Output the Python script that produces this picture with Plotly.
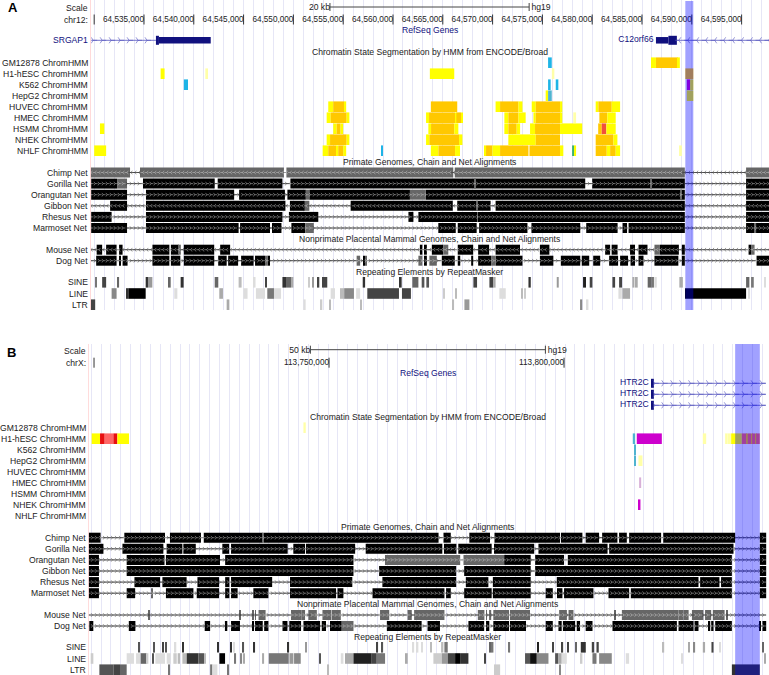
import numpy as np
import plotly.graph_objects as go

# Positions are in units of 100 bp from the window origin of each panel.
ORIGIN_A = "chr12:64,530,000"
ORIGIN_B = "chrX:113,700,000"
ruler_ticks_a = [0, 50, 100, 150, 200, 250, 300, 350, 400, 450, 500, 550, 600, 650]
ruler_labels_a = ["", "64,535,000", "64,540,000", "64,545,000", "64,550,000", "64,555,000", "64,560,000", "64,565,000",
                  "64,570,000", "64,575,000", "64,580,000", "64,585,000", "64,590,000", "64,595,000"]
ruler_ticks_b = [0, 500, 1000]
ruler_labels_b = ["", "113,750,000", "113,800,000"]
scale_a = (236.7, 436.7)
scale_b = (460.3, 960.3)
highlight_a = (593.5, 601.5)
highlight_b = (1364, 1416.5)

cells = ["GM12878", "H1-hESC", "K562", "HepG2", "HUVEC", "HMEC", "HSMM", "NHEK", "NHLF"]
nets = ["Chimp", "Gorilla", "Orangutan", "Gibbon", "Rhesus", "Marmoset"]
nets2 = ["Mouse", "Dog"]
repeats = ["SINE", "LINE", "LTR"]

# ---- ChromHMM states, panel A: (start, end, state)
gm12878_a = [(455.7, 459.4, "C"), (559, 564, "Y"), (564, 586, "G"), (586, 588, "Y")]
h1_a = [(66.7, 70.7, "Y"), (111.6, 114.3, "P"), (337, 361.5, "Y"), (459.5, 462, "P"), (593.5, 601.5, "G")]
k562_a = [(90, 94.2, "C"), (455.7, 458.3, "C"), (463.4, 466, "C"), (595, 598.3, "M"), (598.3, 601.5, "Y")]
hepg2_a = [(453.3, 455.7, "Y"), (455.7, 459.4, "T"), (595, 601.5, "Y")]
huvec_a = [(235, 240, "Y"), (240, 251, "G"), (251, 253, "Y"), (338, 364.5, "G"), (403, 407.5, "Y"), (407.5, 426, "G"),
           (426, 430, "Y"), (439.3, 443.3, "Y"), (443.3, 467.7, "G"), (467.7, 470, "Y"), (503.5, 506.2, "Y"),
           (506.2, 519.6, "G"), (519.6, 528, "Y")]
hmec_a = [(233.4, 237.4, "Y"), (237.4, 253.5, "G"), (253.5, 256.2, "Y"), (333.2, 336.2, "Y"), (336.2, 362.3, "G"),
          (362.3, 363.6, "Y"), (363.6, 368.3, "G"), (368.3, 369.7, "Y"), (411.8, 415.8, "Y"), (415.8, 426, "G"),
          (426, 433.2, "Y"), (441, 443.3, "Y"), (443.3, 468.4, "G"), (468.4, 470, "Y"), (481, 483.8, "P"),
          (507.2, 515.2, "G"), (515.2, 523.6, "Y")]
hsmm_a = [(5.8, 10.2, "Y"), (240, 243.4, "Y"), (243.4, 247.4, "G"), (247.4, 250, "Y"), (335.5, 338.2, "Y"),
          (338.2, 361.6, "G"), (361.6, 365.6, "Y"), (411.8, 415.8, "Y"), (415.8, 424.2, "G"), (424.2, 427.6, "Y"),
          (437.6, 442.6, "Y"), (442.6, 467.7, "G"), (467.7, 490, "Y"), (506, 509.6, "G"), (509.6, 514.2, "O"),
          (514.2, 523.6, "Y")]
nhek_a = [(233.4, 236.8, "Y"), (236.8, 253.5, "G"), (253.5, 256.2, "Y"), (333.2, 336.5, "Y"), (336.5, 366.3, "G"),
          (366.3, 369.7, "Y"), (415.8, 443.3, "Y"), (443.3, 467.7, "G"), (503.5, 521.3, "G"), (521.3, 525.3, "Y")]
nhlf_a = [(0, 12, "Y"), (229.4, 235, "Y"), (235, 243, "G"), (243, 245, "Y"), (245, 250, "G"), (250, 253, "Y"), (288, 290, "C"),
          (338, 345.6, "Y"), (345.6, 362.3, "G"), (362.3, 367.3, "Y"), (391.7, 393.4, "Y"), (393.4, 399.8, "G"),
          (399.8, 407.5, "Y"), (407.5, 436, "G"), (437, 467.7, "G"), (467.7, 471, "Y"), (479.8, 481.8, "V"),
          (481.8, 483.8, "Y"), (503.5, 514.6, "G"), (514.6, 518, "Y"), (518, 523.6, "G"), (523.6, 528, "Y"),
          (587.2, 590, "P")]

# ---- ChromHMM states, panel B
gm12878_b = [(445.5, 450.5, "P")]
h1_b = [(-5, 12.8, "Y"), (12.8, 22.7, "R"), (22.7, 41.2, "S"), (41.2, 49.7, "R"), (49.7, 74.5, "Y"), (1146.2, 1151.2, "T"),
        (1154.7, 1208, "M"), (1295.2, 1302.3, "P"), (1342.7, 1347.7, "P"), (1347.7, 1355.5, "P"), (1355.5, 1378.2, "Y"),
        (1378.2, 1388.8, "S"), (1388.8, 1391, "G"), (1391, 1398, "S"), (1398, 1400, "G"), (1400, 1406.5, "S"),
        (1406.5, 1408.6, "G"), (1408.6, 1416.4, "S")]
k562_b = [(1149, 1151.2, "T")]
hepg2_b = [(1149, 1151.2, "T"), (1158.3, 1166.8, "P")]
huvec_b = []
hmec_b = [(1159.7, 1164, "L")]
hsmm_b = []
nhek_b = [(1158.3, 1162.5, "M")]
nhlf_b = []

# ---- Net blocks: black and gray runs, panel A
chimp_a = []
chimp_a_gray = [(-4, 36), (46, 190.5), (193, 360.5), (362, 593), (654.5, 678)]
gorilla_a = [(-3, 23), (49, 121), (124, 189), (197, 493), (500, 593), (654.5, 678)]
gorilla_a_gray = [(23, 33), (382, 383), (558.5, 559.5)]
orangutan_a = [(-3, 33), (52, 140.5), (145.5, 191.5), (194, 212.5), (216, 317), (333, 593), (654.5, 678)]
orangutan_a_gray = [(212.5, 216), (317, 333), (589, 590)]
gibbon_a = [(16, 33), (52, 192), (196.5, 211.5), (257.5, 360), (364.5, 398), (403, 593), (654.5, 678)]
gibbon_a_gray = [(211.5, 216), (384, 385)]
rhesus_a = [(-3, 17.5), (52, 189), (195.5, 225), (315.5, 320.5), (325.5, 593), (654.5, 678)]
rhesus_a_gray = [(384.5, 385)]
marmoset_a = [(-3, 33), (52, 145), (146.5, 176.5), (178.5, 188), (198, 212), (345.5, 363), (365, 384), (386.5, 435),
              (439, 488), (494, 525.5), (530.5, 535), (536.5, 593), (654.5, 662.5), (664.5, 678)]
marmoset_a_gray = [(212, 220.5), (662.5, 664.5)]
mouse_a = [(2.5, 8), (12, 22.5), (25, 28.5), (58.5, 75.5), (77, 85), (90, 120.5), (126.5, 136.5), (327, 329.5), (332, 334),
           (339, 350.5), (365, 380.5), (385.5, 396.5), (403, 427.5), (447.5, 457), (513, 518), (519.5, 525.5), (538, 543),
           (546.5, 555.5), (568, 587), (590, 593), (657, 659.5)]
mouse_a_gray = [(85, 87), (350.5, 355.5), (562.5, 568), (659.5, 663)]
dog_a = [(2, 22.5), (25, 26.5), (28.5, 33.5), (58.5, 75.5), (77, 86.5), (90, 120.5), (124.5, 133), (134.5, 144.5),
         (147.5, 160), (161.5, 171.5), (174, 176.5), (270, 271), (332, 334), (349, 362), (365, 367.5), (378.5, 380.5),
         (385.5, 398.5), (403, 430), (447.5, 461), (468.5, 488), (489.5, 497), (501, 508), (517, 526), (528, 536),
         (538.5, 543), (546.5, 551.5), (562.5, 586.5), (590, 593), (665, 678)]
dog_a_gray = [(171.5, 174), (263.5, 267), (272, 273.5), (325.5, 329.5), (336.5, 344), (398.5, 403)]

# ---- Net blocks, panel B
chimp_b = [(-12, 14), (64.5, 151), (161.5, 227.5), (233.5, 359), (361, 733), (743.5, 759), (798.5, 842.5), (852, 991.5),
           (993.5, 1039), (1046, 1074.5), (1081, 1113.5), (1117, 1133.5), (1138.5, 1206.5), (1211, 1364), (1416.5, 1430)]
chimp_b_gray = [(359, 361)]
gorilla_b = [(-12, 20), (60.5, 147.5), (154.5, 188), (190, 216.5), (273, 287.5), (291.5, 412), (424, 449), (451, 555.5),
             (578, 741), (744.5, 771), (775, 846), (851, 936.5), (945.5, 1092.5), (1096, 1360.5), (1416.5, 1430)]
gorilla_b_gray = []
orangutan_b = [(-12, 10.5), (69.5, 150), (153, 268), (279, 552), (872.5, 929), (938.5, 1000), (1008, 1357), (1416.5, 1430)]
orangutan_b_gray = [(619, 779), (786, 872.5)]
gibbon_b = [(-12, 10.5), (69.5, 552), (606.5, 770.5), (787.5, 929), (938.5, 1357), (1416.5, 1430)]
gibbon_b_gray = []
rhesus_b = [(-12, 10.5), (86, 140.5), (145.5, 197), (220, 266), (279, 288), (291.5, 379), (417, 549.5), (613.5, 770.5),
            (791, 839), (848.5, 929), (984.5, 1286), (1289.5, 1330.5), (1334, 1357), (1416.5, 1430)]
rhesus_b_gray = []
marmoset_b = [(-12, 10.5), (69.5, 87.5), (153, 211.5), (218.5, 266), (279, 288), (291.5, 305.5), (339, 371), (417, 515),
              (518, 530.5), (592.5, 745.5), (749, 759), (787.5, 846), (848.5, 929), (961, 976), (985, 996.5), (1000, 1062.5),
              (1094.5, 1138.5), (1142, 1357), (1416.5, 1430)]
marmoset_b_gray = [(123, 125)]
mouse_b = []
mouse_b_gray = [(116, 118), (309, 311), (337, 339), (342.5, 344.5), (350, 365), (419, 442), (442.5, 449), (456, 474),
                (486, 504.5), (505.5, 525), (608.5, 628), (667, 676), (681, 745.5), (816.5, 830.5), (834, 835.5), (840.5, 845),
                (849.5, 883), (885, 927.5), (989.5, 1006), (1009.5, 1020), (1106.5, 1108.5), (1123, 1243.5), (1243.5, 1254),
                (1254, 1265), (1272, 1296.5), (1300, 1313), (1316.5, 1341.5), (1345, 1347.5)]
dog_b = [(-10, -1.5), (74, 84), (85, 88), (235.5, 247), (278.5, 283.5), (291.5, 310.5), (337, 340.5), (342.5, 359), (362, 371),
         (401, 411.5), (415.5, 440.5), (445.5, 481), (484.5, 493.5), (502, 527), (623, 697), (709.5, 736), (796.5, 830),
         (834, 841), (849.5, 883), (885, 919), (961, 976), (988, 995), (997.5, 1023.5), (1027, 1034), (1046, 1060.5),
         (1103, 1240), (1243.5, 1275.5), (1277.5, 1286), (1307, 1311), (1313, 1318), (1321.5, 1357), (1416.5, 1419), (1422, 1430)]
dog_b_gray = [(527, 552)]

# ---- RepeatMasker: (start, end, score 0-15)
sine_a = [(1, 2.5, 8), (8, 12, 11), (23, 25, 9), (51.7, 54, 12), (54, 58.4, 6), (75, 76.8, 9), (86.8, 89.8, 12), (121, 124.6, 9),
          (145, 148, 4), (160.4, 162, 2), (171.8, 173.5, 11), (189, 192.6, 12), (192.6, 197.6, 9), (197.6, 200, 5),
          (215.3, 216.7, 3), (219.3, 220.7, 6), (223.7, 226, 11), (228.7, 234, 11), (269.6, 272, 12), (306, 308.7, 12),
          (319.4, 325.5, 9), (328.8, 331.5, 10), (333.5, 336.2, 10), (380.7, 384.4, 11), (396.8, 400.8, 11), (400.8, 403, 5),
          (436, 438.3, 12), (464.4, 466.4, 6), (490.8, 493.8, 13), (497.5, 500.2, 11), (520.3, 523, 11), (527, 530, 11),
          (540.3, 542.4, 5), (543.7, 545.7, 5), (555.7, 559.8, 9), (559.8, 562, 8), (562.4, 564.8, 2), (587.5, 591, 5),
          (654.5, 657.8, 9), (659.5, 662.2, 8), (672.6, 674.2, 2)]
line_a = [(17.5, 22.5, 7), (32.6, 34.3, 12), (34.3, 51.7, 15), (80.4, 83.5, 2), (125.6, 129.3, 5), (149.7, 154, 2),
          (162.4, 171.5, 2), (173.8, 180.5, 8), (180.5, 187.6, 2), (237.4, 241.8, 2), (246.8, 251, 4), (251, 260.8, 7),
          (263, 267, 2), (274.2, 306, 11), (309, 318, 11), (350.6, 351.6, 3), (362.3, 363.6, 4), (406.8, 413.2, 2),
          (428.6, 429.6, 4), (432, 432.6, 3), (526.3, 529.7, 2), (530.3, 538, 5), (593.2, 654.5, 15), (656.8, 658.5, 2)]
ltr_a = [(-3.6, 1, 11), (133, 135.7, 5), (210, 212.3, 2), (227.7, 229, 3), (236, 237.4, 4), (267.2, 268.6, 4), (359.6, 361.3, 4),
         (371.7, 376.7, 6), (487.8, 490, 7), (494.5, 496.2, 2)]
sine_b = [(95, 97.2, 10), (127, 129.8, 10), (145.4, 147.6, 11), (151.8, 154.7, 10), (172, 175, 2), (187.3, 190, 12), (262.5, 264.6, 12),
          (289.4, 293, 12), (296.5, 300, 2), (316.4, 319.2, 10), (339.8, 342.6, 12), (412, 415, 12), (449.7, 451.8, 6),
          (601.5, 604.3, 11), (612, 615, 10), (678, 681, 2), (686.6, 690, 2), (697, 699, 2), (715, 717, 4), (738.4, 743.3, 4),
          (745.4, 752.5, 8), (841.2, 844.8, 9), (846.2, 849.7, 8), (881.6, 885.2, 8), (943.4, 946.2, 13), (975.3, 978, 11),
          (995, 998, 11), (1007.2, 1010, 11), (1023.5, 1026.3, 9), (1035.6, 1046.2, 12), (1059, 1064, 11), (1069, 1073.8, 11),
          (1210, 1213, 4), (1264.7, 1266.8, 5), (1276, 1278.8, 7), (1295.2, 1300, 5), (1313.6, 1318, 11), (1331, 1333, 2),
          (1422, 1425, 9)]
line_b = [(-7, -1.4, 3), (69.5, 85, 2), (89.4, 99.3, 2), (99.3, 112, 9), (112, 115.6, 3), (124.2, 127, 10), (130.5, 151, 2),
          (154.7, 163.2, 2), (168.8, 176, 3), (178, 183, 4), (188, 197.2, 4), (197.2, 222, 12), (222, 234, 10), (234, 237.6, 4),
          (266.7, 278.8, 15), (298.6, 302.2, 8), (312, 315, 7), (317.8, 320, 5), (357.5, 361.8, 5), (371.7, 414.2, 8),
          (415.7, 424.2, 6), (425.6, 439.8, 7), (480.2, 482.3, 10), (525, 530.6, 2), (534, 552, 5), (552, 590.8, 13),
          (590.8, 601.5, 11), (601.5, 619.2, 8), (663.2, 667.4, 5), (722, 739.8, 3), (739.8, 752.5, 6), (752.5, 768.2, 11),
          (768.2, 778.8, 15), (778.8, 796.5, 12), (830, 833.4, 11), (917, 927.7, 10), (927.7, 942, 14), (942, 966.8, 7),
          (981, 988, 10), (988, 995, 5), (995, 1005.8, 2), (1035.6, 1039, 3), (1060.4, 1069, 8), (1074.6, 1101.5, 7),
          (1131.3, 1138.4, 2), (1249, 1251, 2), (1425.7, 1429.2, 5)]
ltr_b = [(11.4, 41.2, 10), (41.2, 55.3, 11), (55.3, 69.5, 9), (158.2, 161.7, 8), (247, 251.8, 8), (251.8, 262.5, 2), (283.7, 287.3, 8),
         (496.5, 500, 4), (851, 864, 3), (989.5, 991.6, 7), (1357, 1416.4, 12)]

# ---- Genes: (name, arrow direction, intron span, thin exon span, thick exon span)
genes_a = [("SRGAP1", 1, (-3, 62), (65, 117), (62, 65)),
           ("C12orf66", -1, (585, 678), (564, 576.5), (576.5, 585))]
genes_b = [("HTR2C", 1, (1191, 1429), None, (1185, 1191))] * 3

# ---- styles and layout
STATE = {"Y": "#FFFF00", "G": "#FFC800", "C": "#1EB4E6", "T": "#50B4D0", "M": "#CD00CD", "P": "#FFFFA8", "O": "#F0503C",
         "R": "#E81010", "S": "#FF6666", "V": "#3CB371", "L": "#D8B0D8"}
W, H = 769, 675
FONT = "Liberation Sans, Arial, sans-serif"
TXT = "#222222"
NAVY = "#10107E"
GENE_LINE = "#5050BE"
rows_a = dict(scale=8, ruler=19.5, refseq=30, gene=40.3, t1=52, chrom=62.7, t2=162.3, net=172.5, t3=239.3, net2=249.7, t4=272, rep=282.3)
rows_b = dict(scale=350.7, ruler=362.7, refseq=373.3, gene=383.3, t1=417, chrom=427.7, t2=527.3, net=537.7, t3=604.3, net2=615, t4=637.3, rep=647.3)
fig = go.Figure()
ann = []


def blocks(ax, ay, y, ivs, colors, h):
    if not ivs:
        return
    s = np.array([i[0] for i in ivs], float)
    e = np.array([i[1] for i in ivs], float)
    fig.add_trace(go.Bar(orientation="h", y=[y] * len(ivs), base=s, x=e - s, width=h, marker=dict(color=colors, line=dict(width=0)),
                         xaxis=ax, yaxis=ay, hoverinfo="skip", showlegend=False))


def line(ax, ay, xs, ys, color, w=1):
    fig.add_trace(go.Scatter(x=xs, y=ys, mode="lines", line=dict(color=color, width=w), xaxis=ax, yaxis=ay, hoverinfo="skip", showlegend=False))


def chevrons(ax, ay, xs, y, d, color, size=3, w=0.5):
    if len(xs) == 0:
        return
    sym = "y-right-open" if d > 0 else "y-left-open"
    fig.add_trace(go.Scatter(x=xs, y=[y] * len(xs), mode="markers", marker=dict(symbol=sym, size=size, color=color, line=dict(color=color, width=w)),
                             xaxis=ax, yaxis=ay, hoverinfo="skip", showlegend=False))


def net_track(ax, ay, y, black, gray, d, lo, hi, step):
    allb = sorted(black + gray)
    xs, ys, cur = [], [], lo
    for a, b in allb:
        if a > cur:
            xs += [cur, a, None]
            ys += [y, y, None]
        cur = max(cur, b)
    if cur < hi:
        xs += [cur, hi]
        ys += [y, y]
    blocks(ax, ay, y, black, "#000000", 10)
    blocks(ax, ay, y, gray, "#666666", 10)
    line(ax, ay, xs, ys, "#444444", 0.8)
    pts = np.arange(lo, hi, step)
    inside = np.array([any(a <= p < b for a, b in allb) for p in pts])
    chevrons(ax, ay, pts[inside], y, d, "#CCCCCC", 3, 0.5)
    chevrons(ax, ay, pts[~inside], y, d, "#333333", 3, 0.5)


def label(ay, y, txt, right, color=TXT):
    ann.append(dict(x=right / W, xref="paper", y=y, yref=ay, text=txt, showarrow=False, xanchor="right", yanchor="middle",
                    font=dict(family=FONT, size=8.6, color=color), borderpad=0))


def center(ay, y, txt, c, color=TXT):
    ann.append(dict(x=c / W, xref="paper", y=y, yref=ay, text=txt, showarrow=False, xanchor="center", yanchor="middle",
                    font=dict(family=FONT, size=8.6, color=color), borderpad=0))


def panel(ax, ay, rows, right, ticks, tick_labels, chrom_name, scale, scale_txt, chrom, net, net_dir, net2, rep, genes, ctr, lo, hi, step):
    label(ay, rows["scale"], "Scale", right)
    label(ay, rows["ruler"], chrom_name, right)
    xs, ys = [], []
    for t in ticks:
        xs += [t, t, None]
        ys += [rows["ruler"] - 5, rows["ruler"] + 5, None]
    line(ax, ay, xs, ys, "#333333", 1)
    fig.add_trace(go.Scatter(x=ticks, y=[rows["ruler"]] * len(ticks), mode="text", text=tick_labels, textposition="middle left",
                             textfont=dict(family=FONT, size=8.2, color=TXT), xaxis=ax, yaxis=ay, hoverinfo="skip", showlegend=False, cliponaxis=False))
    s0, s1 = scale
    sy = rows["scale"] - 1
    line(ax, ay, [s0, s1, None, s0, s0, None, s1, s1], [sy, sy, None, sy - 4, sy + 4, None, sy - 4, sy + 4], "#444444", 1)
    fig.add_trace(go.Scatter(x=[s0, s1], y=[rows["scale"]] * 2, mode="text", text=[scale_txt, "\u00a0hg19"], textposition=["middle left", "middle right"],
                             textfont=dict(family=FONT, size=8.6, color=TXT), xaxis=ax, yaxis=ay, hoverinfo="skip", showlegend=False, cliponaxis=False))
    center(ay, rows["refseq"], "RefSeq Genes", ctr, NAVY)
    center(ay, rows["t1"], "Chromatin State Segmentation by HMM from ENCODE/Broad", ctr)
    center(ay, rows["t2"], "Primate Genomes, Chain and Net Alignments", ctr)
    center(ay, rows["t3"], "Nonprimate Placental Mammal Genomes, Chain and Net Alignments", ctr)
    center(ay, rows["t4"], "Repeating Elements by RepeatMasker", ctr)
    for i, (name, d, intron, thin, thick) in enumerate(genes):
        y = rows["gene"] + (11 * i if genes[0][0] == "HTR2C" else 0)
        line(ax, ay, list(intron), [y, y], GENE_LINE, 0.8)
        pts = np.arange(intron[0] + 2, intron[1], 9 if ax == "x" else 19)
        chevrons(ax, ay, pts, y, d, GENE_LINE, 5, 0.6)
        if thin:
            blocks(ax, ay, y, [thin], NAVY, 6.5)
        blocks(ax, ay, y, [thick], NAVY, 9)
        edge = min(thin[0], thick[0]) if thin else thick[0]
        if name == "SRGAP1":
            label(ay, y, name, right, NAVY)
        else:
            fig.add_trace(go.Scatter(x=[edge], y=[y], mode="text", text=[name + "\u00a0"], textposition="middle left",
                                     textfont=dict(family=FONT, size=8.6, color=NAVY), xaxis=ax, yaxis=ay, hoverinfo="skip", showlegend=False, cliponaxis=False))
    for i, (c, ivs) in enumerate(zip(cells, chrom)):
        y = rows["chrom"] + i * 11
        label(ay, y, c + " ChromHMM", right)
        blocks(ax, ay, y, ivs, [STATE[v[2]] for v in ivs], 10.6)
    for i, (n, (b, g)) in enumerate(zip(nets, net)):
        y = rows["net"] + i * 11.1
        label(ay, y, n + " Net", right)
        net_track(ax, ay, y, b, g, net_dir[i], lo, hi, step)
    for i, (n, (b, g)) in enumerate(zip(nets2, net2)):
        y = rows["net2"] + i * 11
        label(ay, y, n + " Net", right)
        net_track(ax, ay, y, b, g, net_dir[6 + i], lo, hi, step)
    for i, (n, ivs) in enumerate(zip(repeats, rep)):
        y = rows["rep"] + i * 11.2
        label(ay, y, n, right)
        cols = ["rgb({0},{0},{0})".format(int(255 * (1 - v[2] / 15))) for v in ivs]
        blocks(ax, ay, y, ivs, cols, 10.6)


panel("x", "y", rows_a, 88.5, ruler_ticks_a, ruler_labels_a, "chr12:", scale_a, "20 kb",
      [gm12878_a, h1_a, k562_a, hepg2_a, huvec_a, hmec_a, hsmm_a, nhek_a, nhlf_a],
      [(chimp_a, chimp_a_gray), (gorilla_a, gorilla_a_gray), (orangutan_a, orangutan_a_gray), (gibbon_a, gibbon_a_gray),
       (rhesus_a, rhesus_a_gray), (marmoset_a, marmoset_a_gray)], [-1, 1, 1, -1, 1, 1, -1, 1],
      [(mouse_a, mouse_a_gray), (dog_a, dog_a_gray)], [sine_a, line_a, ltr_a], genes_a, 429.5, -3, 678, 4)
panel("x2", "y2", rows_b, 87, ruler_ticks_b, ruler_labels_b, "chrX:", scale_b, "50 kb",
      [gm12878_b, h1_b, k562_b, hepg2_b, huvec_b, hmec_b, hsmm_b, nhek_b, nhlf_b],
      [(chimp_b, chimp_b_gray), (gorilla_b, gorilla_b_gray), (orangutan_b, orangutan_b_gray), (gibbon_b, gibbon_b_gray),
       (rhesus_b, rhesus_b_gray), (marmoset_b, marmoset_b_gray)], [1] * 8,
      [(mouse_b, mouse_b_gray), (dog_b, dog_b_gray)], [sine_b, line_b, ltr_b], genes_b, 427.5, -12, 1430, 8.5)

ann.append(dict(x=5.5 / W, xref="paper", y=7, yref="y", text="<b>A</b>", showarrow=False, xanchor="left", yanchor="middle",
                font=dict(family=FONT, size=13, color="#000000")))
ann.append(dict(x=4.5 / W, xref="paper", y=352.5, yref="y2", text="<b>B</b>", showarrow=False, xanchor="left", yanchor="middle",
                font=dict(family=FONT, size=13, color="#000000")))

GRID = "#E6E6F6"
def xax(left, rng, tick0, dtick):
    return dict(domain=[left / W, 1], range=rng, showgrid=True, gridcolor=GRID, gridwidth=1, tick0=tick0, dtick=dtick, ticks="",
                showticklabels=False, zeroline=False, showline=False, fixedrange=True)
def yax(dom, rng):
    return dict(domain=dom, range=rng, showgrid=False, showticklabels=False, ticks="", zeroline=False, showline=False, fixedrange=True)

shapes = [
    dict(type="rect", xref="x", yref="y", x0=highlight_a[0], x1=highlight_a[1], y0=1, y1=310, fillcolor="rgba(0,0,255,0.37)", line=dict(width=0), layer="above"),
    dict(type="rect", xref="x2", yref="y2", x0=highlight_b[0], x1=highlight_b[1], y0=344, y1=675, fillcolor="rgba(0,0,255,0.37)", line=dict(width=0), layer="above"),
    dict(type="line", xref="x", yref="y", x0=-4, x1=-4, y0=0, y1=310, line=dict(color="#FFD8D8", width=1.5), layer="above"),
    dict(type="line", xref="x2", yref="y2", x0=-12.5, x1=-12.5, y0=344, y1=675, line=dict(color="#FFD8D8", width=1.5), layer="above"),
]
fig.update_layout(
    width=W, height=H, autosize=False, margin=dict(l=0, r=0, t=0, b=0, pad=0), paper_bgcolor="white", plot_bgcolor="white", barmode="overlay",
    showlegend=False, annotations=ann, shapes=shapes,
    xaxis=dict(xax(90, [-4.2, 677.5], 0, 10), anchor="y"),
    xaxis2=dict(xax(88, [-12.8, 1436], 15, 21), anchor="y2"),
    yaxis=dict(yax([1 - 310 / H, 1], [310, 0]), anchor="x"),
    yaxis2=dict(yax([0, 1 - 344 / H], [675, 344]), anchor="x2"),
)
fig.write_html("out.html", config=dict(displayModeBar=False), post_script="document.body.style.margin='0';document.body.style.overflow='hidden';")
